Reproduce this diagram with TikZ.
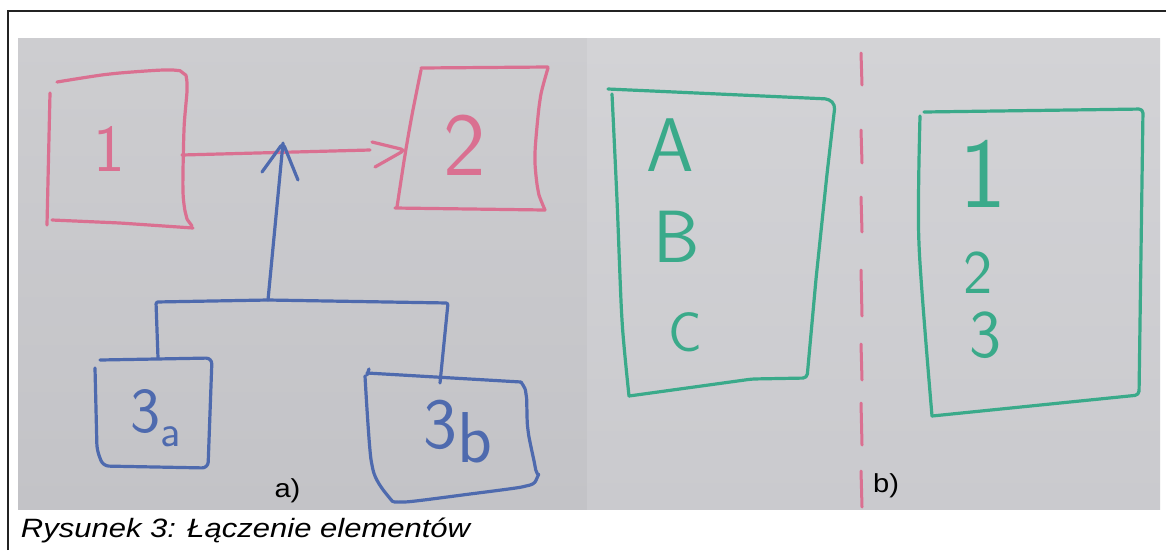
\documentclass[tikz,border=0pt]{standalone}
\usepackage{fontspec}
\setmainfont{Liberation Sans}
\newcommand\handfont{\sffamily}
\definecolor{paperA}{RGB}{205,205,208}
\definecolor{paperB}{RGB}{195,195,199}
\definecolor{paperC}{RGB}{211,211,214}
\definecolor{paperD}{RGB}{202,202,206}
\definecolor{pinkpen}{RGB}{218,112,145}
\definecolor{bluepen}{RGB}{78,106,174}
\definecolor{greenpen}{RGB}{58,170,138}
\definecolor{framec}{RGB}{35,35,35}
\begin{document}
\begin{tikzpicture}[x=1pt,y=-1pt,
  pen/.style={line width=3.2pt,line cap=round,line join=round,rounded corners=4pt},
  sm/.style={smooth,tension=0.45},
  handtxt/.style={inner sep=0pt},
  lbl/.style={inner sep=0pt,text=black,xscale=1.12,font=\fontsize{26}{26}\selectfont}]
\useasboundingbox (0,0) rectangle (1166,550);
\fill[white] (0,0) rectangle (1166,550);
\shade[top color=paperA,bottom color=paperB] (18,38) rectangle (587,509);
\shade[top color=paperC,bottom color=paperD] (587,38) rectangle (1160,509);
\draw[framec,line width=1.2pt] (8,550) -- (8,11) -- (1166,11);

% ---------- a) ----------
% box 1
\draw[pinkpen,pen] plot[sm] coordinates {(57,82) (110,74) (166,70) (183,73) (187,86) (184,130) (183,190) (186,215) (192,226)};
\draw[pinkpen,pen] (52,220) -- (120,223) -- (193,228);
\draw[pinkpen,pen] (50,93) -- (47,225);
\node[handtxt,text=pinkpen,font={\handfont\fontsize{67}{67}\selectfont}] (n1) at (109,149) {1};
% box 2
\draw[pinkpen,pen] (421,68) -- (548,67);
\draw[pinkpen,pen] plot[sm] coordinates {(548,68) (540,100) (535,155) (538,190) (545,210)};
\draw[pinkpen,pen] (395,208) -- (545,210);
\draw[pinkpen,pen] plot[sm] coordinates {(421,70) (412,115) (405,155) (397,207)};
\node[handtxt,text=pinkpen,font={\handfont\fontsize{90}{90}\selectfont}] (n2) at (465,145) {2};
% arrow 1 -> 2
\coordinate (p1) at (182,155);
\coordinate (p2) at (370,150);
\coordinate (p2tip) at (405,150);
\draw[pinkpen,pen] (p1) -- (p2);
\draw[pinkpen,pen] (372,142) -- (p2tip) -- (375,167);
% blue tree
\coordinate (bj) at (268,300);
\coordinate (btip) at (283,143);
\coordinate (bl) at (156,302);
\coordinate (br) at (448,303);
\coordinate (b3a) at (158,358);
\coordinate (b3b) at (440,383);
\draw[bluepen,pen] (bj) -- (btip);
\draw[bluepen,pen] (262,172) -- (btip) -- (298,180);
\draw[bluepen,pen,rounded corners=2pt] (b3a) -- (bl) -- (bj) -- (br) -- (b3b);
% box 3a
\draw[bluepen,pen,rounded corners=6pt] (95,368) -- (97,450) -- (103,466) -- (208,468) -- (212,358) -- (100,360);
\node[handtxt,text=bluepen,anchor=base west,font={\handfont\fontsize{64}{64}\selectfont}] (n3a) at (130,432) {3\raisebox{-14pt}{\fontsize{45}{45}\selectfont a}};
% box 3b
\draw[bluepen,pen] (369,369) -- (367,375);
\draw[bluepen,pen] (367,373) -- (521,382);
\draw[bluepen,pen] plot[sm] coordinates {(521,382) (526,394) (528,430) (535,466) (537,478) (526,486) (470,494) (402,502) (388,496) (372,465) (365,376)};
\node[handtxt,text=bluepen,anchor=base west,font={\handfont\fontsize{72}{72}\selectfont}] (n3b) at (423,448) {3\raisebox{-14pt}{b}};
\node[lbl] (la) at (287.5,490.5) {a)};

% ---------- b) ----------
\foreach \a/\b in {53/85,130/163,197/232,270/316,344/380,403/445,471/507}
  \draw[pinkpen,line width=3pt,line cap=round] (861,\a) -- (862,\b);
% box ABC
\draw[greenpen,pen] (608,89) -- (829,99) -- (835,105) -- (827,174) -- (816,279) -- (807,378) -- (752,379) -- (629,396);
\draw[greenpen,pen] plot[sm] coordinates {(612,94) (617,200) (622,320) (629,396)};
\node[handtxt,text=greenpen,font={\handfont\fontsize{76}{76}\selectfont}] (tA) at (670,145) {A};
\node[handtxt,text=greenpen,font={\handfont\fontsize{74}{74}\selectfont}] (tB) at (677,237) {B};
\node[handtxt,text=greenpen,font={\handfont\fontsize{56}{56}\selectfont}] (tC) at (685,332) {C};
% box 123
\draw[greenpen,pen] (924,112) -- (1143,109) -- (1139,395) -- (932,416);
\draw[greenpen,pen] plot[sm] coordinates {(920,116) (919,244) (932,416)};
\node[handtxt,text=greenpen,font={\handfont\fontsize{100}{100}\selectfont}] (t1) at (983,174) {1};
\node[handtxt,text=greenpen,font={\handfont\fontsize{62}{62}\selectfont}] (t2) at (978,273) {2};
\node[handtxt,text=greenpen,font={\handfont\fontsize{68}{68}\selectfont}] (t3) at (985,335) {3};
\node[lbl] (lb) at (886,486) {b)};

% caption
\node[anchor=base west,inner sep=0pt,xscale=1.17,font=\itshape\fontsize{26.5}{26.5}\selectfont] (cap) at (20.7,537) {Rysunek 3: Łączenie elementów};
\end{tikzpicture}
\end{document}
